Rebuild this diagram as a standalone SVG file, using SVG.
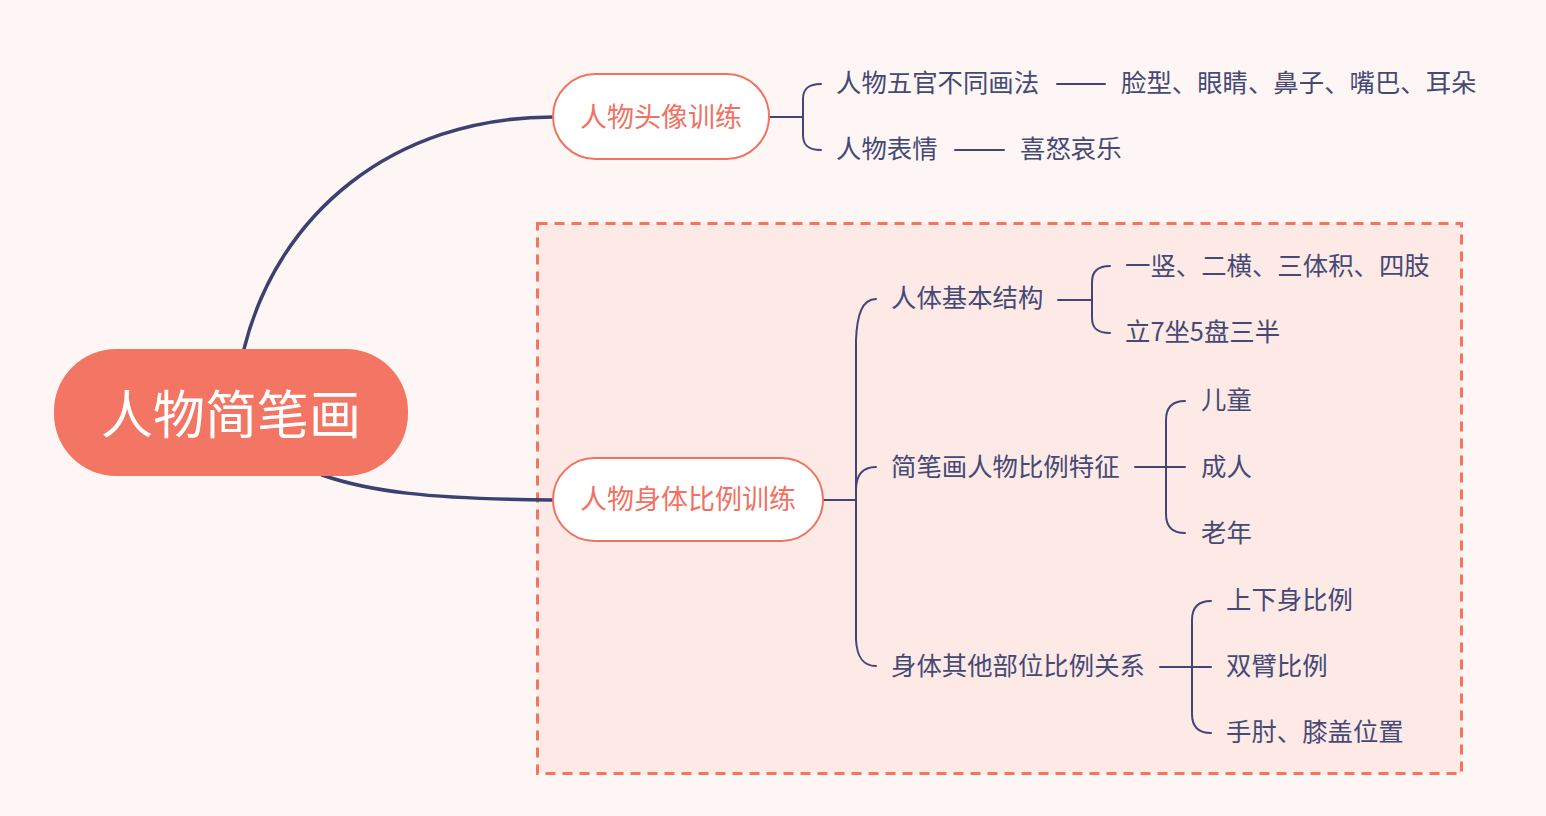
<svg xmlns="http://www.w3.org/2000/svg" width="1546" height="816" viewBox="0 0 1546 816">
<style>
.t{font-family:"Noto Sans CJK SC","Noto Sans",sans-serif;font-size:25.4px;fill:#454a75}
.sub{font-family:"Noto Sans CJK SC","Noto Sans",sans-serif;font-size:27px;fill:#f07262;text-anchor:middle}
.root{font-family:"Noto Sans CJK SC","Noto Sans",sans-serif;font-size:52px;fill:#ffffff;text-anchor:middle}
.subbox{fill:#ffffff;stroke:#f07262;stroke-width:2}
.ln{fill:none;stroke:#434675;stroke-width:2;stroke-linecap:round}
.main{fill:none;stroke:#3b4170;stroke-width:3.5;stroke-linecap:round}
</style>
<rect x="0" y="0" width="1546" height="816" fill="#fef6f4"/>
<g id="boundary">
<rect x="537.5" y="223.5" width="924" height="550" fill="#fde9e6" stroke="#f27563" stroke-width="3" stroke-dasharray="10 7"/>
</g>
<g id="connectors">
<path class="main" d="M244,349 C277,215 392,117 553,117"/>
<path class="main" d="M322,475 C368,491 425,499 553,500"/>
<path class="ln" d="M769,117 L803,117"/>
<path class="ln" d="M821,84 C808,84 803,89 803,99 L803,135 C803,145 808,150 821,150"/>
<path class="ln" d="M1057,84 L1105,84"/>
<path class="ln" d="M955,150 L1004,150"/>
<path class="ln" d="M823,500 L856,500"/>
<path class="ln" d="M876,299 C862,299 857,315 856,340 L856,640 C857,656 862,666 876,666"/>
<path class="ln" d="M856,490 C856,475 862,467 876,467"/>
<path class="ln" d="M1058,300 L1092,300"/>
<path class="ln" d="M1110,266 C1097,266 1092,272 1092,282 L1092,318 C1092,328 1097,333 1110,333"/>
<path class="ln" d="M1135,467 L1185,467"/>
<path class="ln" d="M1185,401 C1172,401 1166,407 1166,420 L1166,514 C1166,527 1172,533 1185,533"/>
<path class="ln" d="M1160,667 L1211,667"/>
<path class="ln" d="M1211,601 C1198,601 1192,607 1192,620 L1192,714 C1192,727 1198,733 1211,733"/>
</g>
<g id="root">
<rect x="54" y="349" width="354" height="127" rx="62" fill="#f37563"/>
<text class="root" x="231" y="434">人物简笔画</text>
</g>
<g id="head">
<rect class="subbox" x="553" y="74" width="216" height="85" rx="42.5"/>
<text class="sub" x="661" y="127">人物头像训练</text>
</g>
<g id="body">
<rect class="subbox" x="553" y="458" width="270" height="83" rx="41.5"/>
<text class="sub" x="688" y="509">人物身体比例训练</text>
</g>
<g id="n-facial"><text class="t" x="836" y="91.5">人物五官不同画法</text></g>
<g id="n-facial-c"><text class="t" x="1121" y="91.5">脸型、眼睛、鼻子、嘴巴、耳朵</text></g>
<g id="n-expr"><text class="t" x="836" y="157.5">人物表情</text></g>
<g id="n-expr-c"><text class="t" x="1020" y="157.5">喜怒哀乐</text></g>
<g id="n-struct"><text class="t" x="891" y="306.5">人体基本结构</text></g>
<g id="n-struct-1"><text class="t" x="1125" y="275">一竖、二横、三体积、四肢</text></g>
<g id="n-struct-2"><text class="t" x="1125" y="340.5">立7坐5盘三半</text></g>
<g id="n-ratio"><text class="t" x="891" y="475.5">简笔画人物比例特征</text></g>
<g id="n-ratio-1"><text class="t" x="1201" y="408.5">儿童</text></g>
<g id="n-ratio-2"><text class="t" x="1201" y="475.5">成人</text></g>
<g id="n-ratio-3"><text class="t" x="1201" y="541.5">老年</text></g>
<g id="n-other"><text class="t" x="891" y="674.5">身体其他部位比例关系</text></g>
<g id="n-other-1"><text class="t" x="1226" y="608.5">上下身比例</text></g>
<g id="n-other-2"><text class="t" x="1226" y="674.5">双臂比例</text></g>
<g id="n-other-3"><text class="t" x="1226" y="740.5">手肘、膝盖位置</text></g>
</svg>
